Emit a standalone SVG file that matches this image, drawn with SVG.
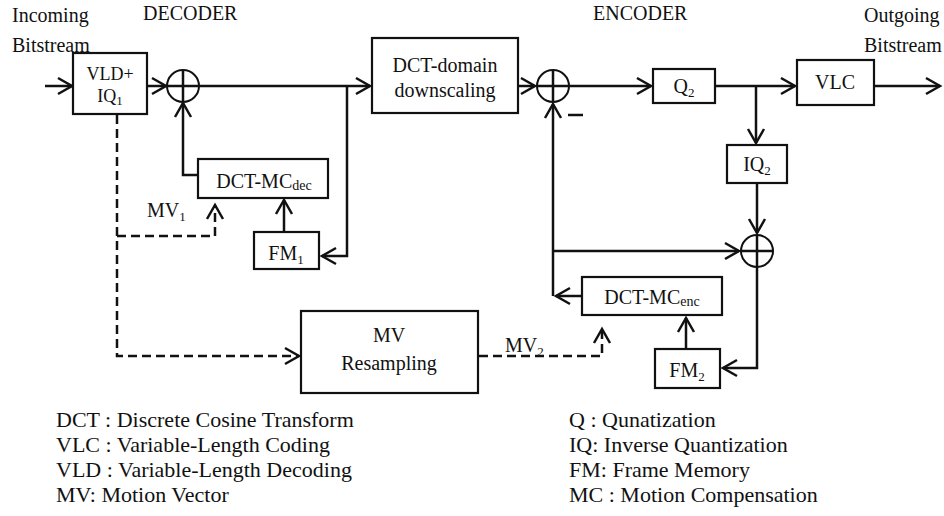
<svg xmlns="http://www.w3.org/2000/svg" width="944" height="516" viewBox="0 0 944 516">
<style>
text{font-family:"Liberation Serif","Times New Roman",serif;fill:#111;}
.t{font-size:20px;}
.c{text-anchor:middle;}
.lg{font-size:22px;}
.box{fill:#fff;stroke:#111;stroke-width:2.2;}
.ln{fill:none;stroke:#111;stroke-width:2.5;}
.ds{fill:none;stroke:#111;stroke-width:2.5;stroke-dasharray:9,5;}
.sum{fill:#fff;stroke:#111;stroke-width:2;}
.sub{font-size:13px;}
</style>
<defs>
<marker id="ah" markerUnits="userSpaceOnUse" viewBox="-16 -10 18 20" markerWidth="18" markerHeight="20" refX="0" refY="0" orient="auto" overflow="visible">
<path d="M-14,-8 L0,0 L-14,8" fill="none" stroke="#111" stroke-width="2.5" stroke-dasharray="none"/>
</marker>
</defs>

<g id="labels">
<text class="t" x="12" y="22">Incoming</text>
<text class="t" x="12" y="52">Bitstream</text>
<text class="t" x="143" y="20">DECODER</text>
<text class="t" x="593" y="20">ENCODER</text>
<text class="t" x="864" y="22">Outgoing</text>
<text class="t" x="864" y="52">Bitstream</text>
<text class="t" x="147" y="217">MV<tspan class="sub" dy="4">1</tspan></text>
<text class="t" x="505" y="352">MV<tspan class="sub" dy="4">2</tspan></text>
</g>

<g id="connectors">
<path class="ln" d="M45,86 H72" marker-end="url(#ah)"/>
<path class="ln" d="M148,86 H166" marker-end="url(#ah)"/>
<path class="ln" d="M199,86 H370" marker-end="url(#ah)"/>
<path class="ln" d="M347,86 V256 H322" marker-end="url(#ah)"/>
<path class="ln" d="M284,232 V200" marker-end="url(#ah)"/>
<path class="ln" d="M198,175 H183 V103" marker-end="url(#ah)"/>
<path class="ln" d="M518,86 H535" marker-end="url(#ah)"/>
<path class="ln" d="M569,86 H651" marker-end="url(#ah)"/>
<path class="ln" d="M715,86 H795" marker-end="url(#ah)"/>
<path class="ln" d="M756,86 V143" marker-end="url(#ah)"/>
<path class="ln" d="M874,86 H940" marker-end="url(#ah)"/>
<path class="ln" d="M757,183 V233" marker-end="url(#ah)"/>
<path class="ln" d="M553,296 V104" marker-end="url(#ah)"/>
<path class="ln" d="M553,251 H739" marker-end="url(#ah)"/>
<path class="ln" d="M757,267 V368 H723" marker-end="url(#ah)"/>
<path class="ln" d="M686,349 V318" marker-end="url(#ah)"/>
<path class="ln" d="M582,296 H556" marker-end="url(#ah)"/>
<path class="ds" d="M117,115 V356 H299" marker-end="url(#ah)"/>
<path class="ds" d="M117,236 H215 V205" marker-end="url(#ah)"/>
<path class="ds" d="M479,356 H602 V329" marker-end="url(#ah)"/>
<path class="ln" d="M568,115 H583" stroke-width="2"/>
</g>

<g id="vld">
<rect class="box" x="73" y="53" width="74" height="61"/>
<text class="c" x="110" y="80" font-size="18">VLD+</text>
<text class="c" x="110" y="102" font-size="18">IQ<tspan class="sub" dy="3" font-size="12">1</tspan></text>
</g>
<g id="sum1">
<circle class="sum" cx="183" cy="86" r="16"/>
<path class="ln" d="M167,86 H199 M183,70 V102" stroke-width="2"/>
</g>
<g id="dct-downscaling">
<rect class="box" x="372" y="38" width="146" height="75"/>
<text class="t c" x="445" y="72">DCT-domain</text>
<text class="t c" x="445" y="97">downscaling</text>
</g>
<g id="dct-mc-dec">
<rect class="box" x="198" y="159" width="130" height="39"/>
<text class="t c" x="264" y="188">DCT-MC<tspan font-size="14" dy="2">dec</tspan></text>
</g>
<g id="fm1">
<rect class="box" x="254" y="232" width="65" height="37"/>
<text class="t c" x="286" y="260">FM<tspan class="sub" dy="4">1</tspan></text>
</g>
<g id="sum2">
<circle class="sum" cx="553" cy="86" r="16"/>
<path class="ln" d="M537,86 H569 M553,70 V102" stroke-width="2"/>
</g>
<g id="q2">
<rect class="box" x="653" y="69" width="62" height="34"/>
<text class="t c" x="684" y="93">Q<tspan class="sub" dy="4">2</tspan></text>
</g>
<g id="vlc">
<rect class="box" x="797" y="60" width="77" height="45"/>
<text class="t c" x="835" y="89">VLC</text>
</g>
<g id="iq2">
<rect class="box" x="727" y="145" width="60" height="38"/>
<text class="t c" x="757" y="171">IQ<tspan class="sub" dy="4">2</tspan></text>
</g>
<g id="sum3">
<circle class="sum" cx="757" cy="251" r="16"/>
<path class="ln" d="M741,251 H773 M757,235 V267" stroke-width="2"/>
</g>
<g id="dct-mc-enc">
<rect class="box" x="582" y="277" width="140" height="38"/>
<text class="t c" x="652" y="304">DCT-MC<tspan font-size="14" dy="2">enc</tspan></text>
</g>
<g id="fm2">
<rect class="box" x="655" y="349" width="65" height="39"/>
<text class="t c" x="687" y="377">FM<tspan class="sub" dy="4">2</tspan></text>
</g>
<g id="mv-resampling">
<rect class="box" x="301" y="311" width="177" height="82"/>
<text class="t c" x="389" y="342">MV</text>
<text class="t c" x="389" y="370">Resampling</text>
</g>

<g id="legend">
<text class="lg" x="56" y="427">DCT : Discrete Cosine Transform</text>
<text class="lg" x="56" y="452">VLC : Variable-Length Coding</text>
<text class="lg" x="56" y="477">VLD : Variable-Length Decoding</text>
<text class="lg" x="56" y="502">MV: Motion Vector</text>
<text class="lg" x="569" y="427">Q : Qunatization</text>
<text class="lg" x="569" y="452">IQ: Inverse Quantization</text>
<text class="lg" x="569" y="477">FM: Frame Memory</text>
<text class="lg" x="569" y="502">MC : Motion Compensation</text>
</g>
</svg>
